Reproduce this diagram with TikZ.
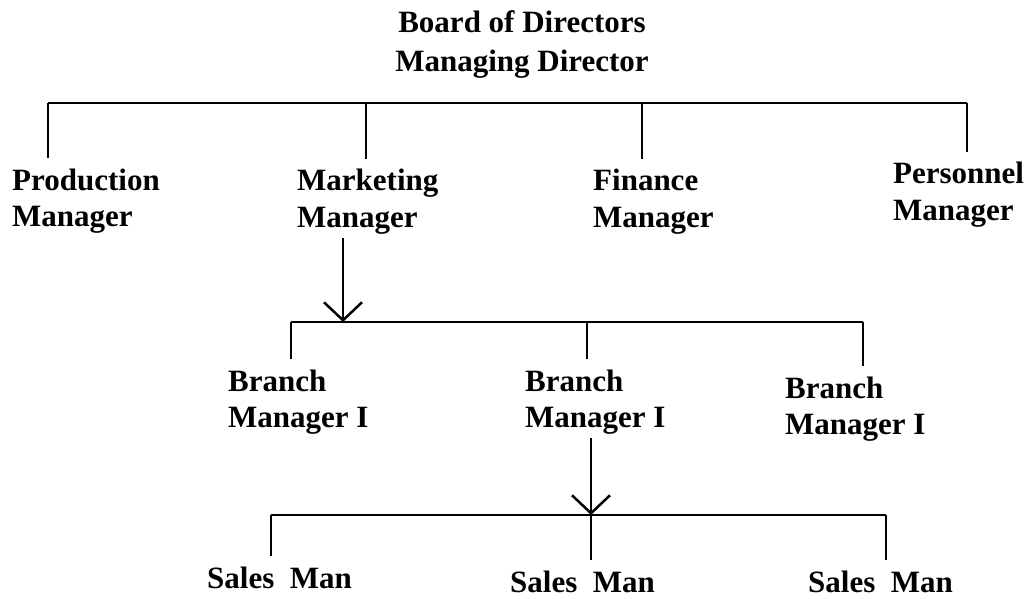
\documentclass[tikz,border=0pt]{standalone}
\usepackage{fontspec}
\setmainfont{Liberation Serif}
\usetikzlibrary{arrows.meta}

\begin{document}
\begin{tikzpicture}[x=1pt,y=-1pt,
  staff/.style={anchor=base west,inner sep=0pt,align=left,font=\bfseries\fontsize{31}{36}\selectfont},
  link/.style={line width=2.5pt},
  drop/.style={line width=2.5pt,shorten >=10pt},
  down/.style={line width=2.5pt,shorten <=4pt,-{Straight Barb[length=18pt,width=38pt]}}]
\useasboundingbox (0,0) rectangle (1026,599);

\node[staff,align=center,anchor=base] (board) at (522,72) {Board of Directors\\[3pt]Managing Director};

\node[staff] (prod) at (12,226) {Production\\Manager};
\node[staff] (mkt) at (297,227) {Marketing\\Manager};
\node[staff] (fin) at (593,227) {Finance\\Manager};
\node[staff] (pers) at (893,220) {Personnel\\Manager};

\coordinate (t1) at (48,103);
\coordinate (t2) at (366,103);
\coordinate (t3) at (642,103);
\coordinate (t4) at (967,103);
\draw[link] (t1) -- (t4);
\draw[drop] (t1) -- (t1 |- prod.north);
\draw[drop] (t2) -- (t2 |- mkt.north);
\draw[drop] (t3) -- (t3 |- fin.north);
\draw[drop] (t4) -- (t4 |- pers.north);

\node[staff] (br1) at (228,427) {Branch\\Manager I};
\node[staff] (br2) at (525,427) {Branch\\Manager I};
\node[staff] (br3) at (785,434) {Branch\\Manager I};

\coordinate (m1) at (291,322);
\coordinate (m2) at (343,322);
\coordinate (m3) at (587,322);
\coordinate (m4) at (863,322);
\draw[link] (m1) -- (m4);
\draw[down] (mkt.south -| m2) -- (m2);
\draw[drop] (m1) -- (m1 |- br1.north);
\draw[drop] (m3) -- (m3 |- br2.north);
\draw[drop] (m4) -- (m4 |- br3.north);

\node[staff] (s1) at (207,588) {Sales~ Man};
\node[staff] (s2) at (510,592) {Sales~ Man};
\node[staff] (s3) at (808,592) {Sales~ Man};

\coordinate (u1) at (271,515);
\coordinate (u2) at (591,515);
\coordinate (u3) at (886,515);
\draw[link] (u1) -- (u3);
\draw[down] (br2.south -| u2) -- (u2);
\draw[drop] (u1) -- (u1 |- s1.north);
\draw[drop] (u2) -- (u2 |- s2.north);
\draw[drop] (u3) -- (u3 |- s3.north);
\end{tikzpicture}
\end{document}
